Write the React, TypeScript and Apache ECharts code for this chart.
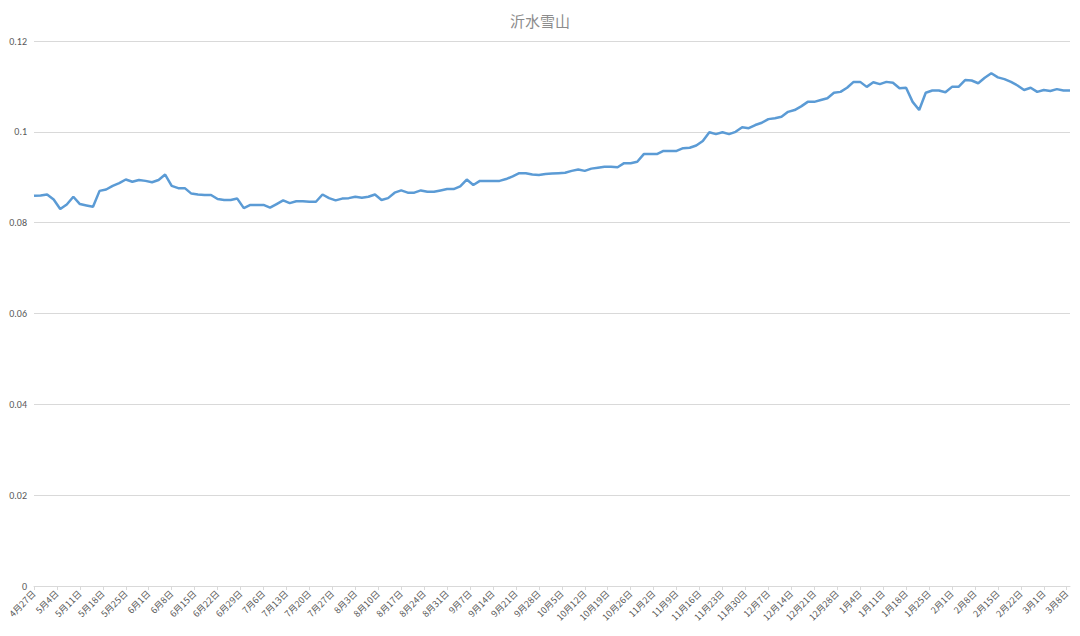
import { useEffect, useRef } from 'react';
import * as echarts from 'echarts';

// 2022-04-27 .. 2023-03-09, one category per day
const startDate = new Date(2022, 3, 27);
const dayCount = 317;
const dayLabels: string[] = [];
for (let i = 0; i < dayCount; i++) {
  const d = new Date(startDate.getFullYear(), startDate.getMonth(), startDate.getDate() + i);
  dayLabels.push(`${d.getMonth() + 1}月${d.getDate()}日`);
}

// readings every second day, starting 4月27日
const sampleStep = 2;
const values = [
  0.0859, 0.086, 0.0862, 0.0851, 0.083, 0.084, 0.0857, 0.0841, 0.0838, 0.0835,
  0.087, 0.0873, 0.0881, 0.0887, 0.0895, 0.089, 0.0894, 0.0892, 0.0889, 0.0894,
  0.0906, 0.0881, 0.0876, 0.0876, 0.0864, 0.0862, 0.0861, 0.0861, 0.0852, 0.085,
  0.085, 0.0853, 0.0832, 0.0839, 0.0839, 0.0839, 0.0833, 0.0841, 0.0849, 0.0843,
  0.0847, 0.0847, 0.0846, 0.0846, 0.0862, 0.0854, 0.0849, 0.0853, 0.0854, 0.0857,
  0.0855, 0.0857, 0.0862, 0.085, 0.0854, 0.0866, 0.0871, 0.0866, 0.0866, 0.0871,
  0.0868, 0.0868, 0.0871, 0.0874, 0.0874, 0.088, 0.0895, 0.0883, 0.0892, 0.0892,
  0.0892, 0.0892, 0.0896, 0.0902, 0.0909, 0.0909, 0.0906, 0.0905, 0.0907, 0.0908,
  0.0909, 0.091, 0.0914, 0.0917, 0.0914, 0.0919, 0.0921, 0.0923, 0.0923, 0.0922,
  0.0931, 0.0931, 0.0934, 0.0951, 0.0951, 0.0951, 0.0958, 0.0958, 0.0958, 0.0964,
  0.0965, 0.097, 0.098, 0.0999, 0.0995, 0.0999, 0.0995, 0.1, 0.101, 0.1008,
  0.1015, 0.102, 0.1028, 0.103, 0.1033, 0.1044, 0.1048, 0.1056, 0.1066, 0.1066,
  0.107, 0.1074, 0.1086, 0.1088, 0.1097, 0.111, 0.111, 0.1099, 0.1109, 0.1105,
  0.111, 0.1108, 0.1096, 0.1097, 0.1066, 0.1048, 0.1086, 0.1091, 0.1091, 0.1087,
  0.1099, 0.1099, 0.1114, 0.1113, 0.1107, 0.1119, 0.1129, 0.112, 0.1116, 0.111,
  0.1102, 0.1092, 0.1097, 0.1088, 0.1092, 0.109, 0.1094, 0.1091, 0.1091,
];

export default function App() {
  const chartRef = useRef<HTMLDivElement>(null);

  useEffect(() => {
    document.body.style.margin = '0';
    if (!chartRef.current) return;
    const chart = echarts.init(chartRef.current, null, { renderer: 'svg' });

    const option: echarts.EChartsOption = {
      animation: false,
      backgroundColor: '#ffffff',
      title: {
        text: '沂水雪山',
        left: 'center',
        top: 8,
        textStyle: {
          color: '#8c8c8c',
          fontSize: 15,
          fontWeight: 'normal',
          fontFamily: '"Noto Sans CJK SC", sans-serif',
        },
      },
      grid: {
        left: 34,
        right: 10,
        top: 41,
        bottom: 50,
      },
      xAxis: {
        type: 'category',
        data: dayLabels,
        boundaryGap: false,
        axisLine: { lineStyle: { color: '#d9d9d9' } },
        axisTick: {
          interval: 6,
          length: 4,
          lineStyle: { color: '#d9d9d9' },
        },
        axisLabel: {
          interval: 6,
          rotate: 45,
          color: '#595959',
          fontSize: 9,
          margin: 6,
          fontFamily: '"Noto Sans CJK SC", sans-serif',
        },
        splitLine: { show: false },
      },
      yAxis: {
        type: 'value',
        min: 0,
        max: 0.12,
        interval: 0.02,
        axisLine: { show: false },
        axisTick: { show: false },
        axisLabel: {
          color: '#595959',
          fontSize: 10,
          margin: 7,
          fontFamily: 'Calibri, "Liberation Sans", sans-serif',
        },
        splitLine: { lineStyle: { color: '#d9d9d9' } },
      },
      series: [
        {
          type: 'line',
          data: values.map((v, i) => [i * sampleStep, v]),
          symbol: 'none',
          lineStyle: { color: '#5b9bd5', width: 2.5 },
        },
      ],
    };

    chart.setOption(option);

    return () => {
      chart.dispose();
    };
  }, []);

  return <div ref={chartRef} style={{ width: 1080, height: 636 }} />;
}
